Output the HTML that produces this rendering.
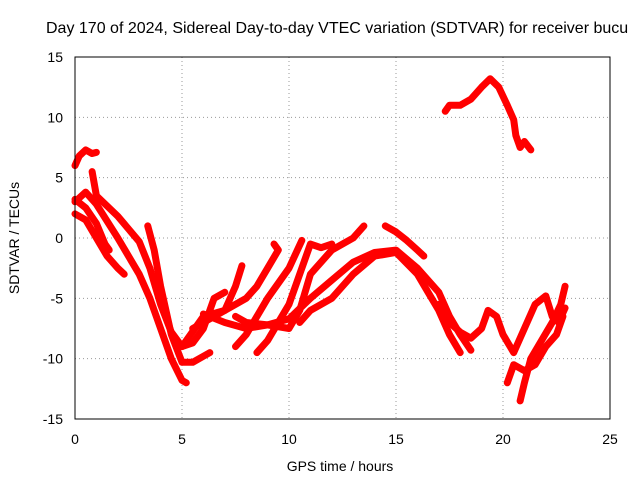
<!DOCTYPE html>
<html><head><meta charset="utf-8"><style>
body{margin:0;background:#fff;}
svg{display:block;font-family:"Liberation Sans",sans-serif;}
</style></head><body>
<svg id="chart" width="640" height="480" viewBox="0 0 640 480">
<text x="46" y="33" font-size="16">Day 170 of 2024, Sidereal Day-to-day VTEC variation (SDTVAR) for receiver bucu</text>
<text x="340" y="471" font-size="14" text-anchor="middle">GPS time / hours</text>
<text x="0" y="0" font-size="14" text-anchor="middle" transform="translate(19,238) rotate(-90)">SDTVAR / TECUs</text>
<g id="grid"></g><g id="ticks"></g><g id="marks"></g>
<rect x="75" y="57" width="535" height="362" fill="none" stroke="#000" stroke-width="1"/>
</svg>
<script>
const xTicks=[0,5,10,15,20,25];
const yTicks=[-15,-10,-5,0,5,10,15];
const trackA=[[0,6],[0.2,6.8],[0.5,7.3],[0.8,7],[1,7.1]];
const trackB=[[0,2],[0.5,1.5],[1,0],[1.5,-1.5],[2,-2.5],[2.3,-3]];
const trackC=[[0,3.2],[0.5,2.5],[1,1.2],[1.4,-0.5],[1.6,-1]];
const trackD=[[0.8,5.5],[1,3.5],[2,1.8],[3,-0.3],[3.5,-2.5],[4,-5.5],[4.5,-7.8],[5,-9],[5.5,-8.7],[6,-7.5],[6.5,-5],[7,-4.5]];
const trackE=[[3.4,1],[3.7,-1],[4,-4],[4.5,-8],[5,-10.3],[5.5,-10.3],[6,-9.8],[6.3,-9.5]];
const trackF=[[0,3],[0.5,3.8],[1,2.8],[2,0],[3,-3],[3.5,-5],[4,-7.5],[4.5,-10],[5,-11.8],[5.2,-12]];
const trackG=[[5.5,-7.5],[6,-7],[6.5,-6.5],[7,-6],[7.5,-4],[7.8,-2.3]];
const trackH=[[5,-9],[6,-6.5],[7,-6],[8,-5],[8.5,-4],[9,-2.5],[9.5,-1],[9.3,-0.5]];
const trackI=[[7.5,-9],[8,-8],[9,-5],[10,-2.5],[10.6,-0.2]];
const trackJ=[[7.5,-6.5],[8,-7],[9,-7.2],[10,-7.5],[10.5,-6],[11,-3],[12,-1],[13,0],[13.5,1]];
const trackK=[[8.5,-9.5],[9,-8.5],[9.5,-7],[10,-5.5],[10.5,-3],[11,-0.5],[11.5,-0.8],[12,-0.5]];
const trackL=[[6,-6.3],[7,-7],[8,-7.5],[9,-7.2],[10,-6.7],[11,-5],[12,-3.5],[13,-2],[14,-1.2],[15,-1],[16,-2.5],[17,-4.5],[17.5,-6.5],[18,-8],[18.5,-9.3]];
const trackM=[[14.5,1],[15,0.5],[15.5,-0.2],[16,-1],[16.3,-1.5]];
const trackN=[[10.5,-7],[11,-6],[12,-5],[13,-3],[14,-1.5],[15,-1.2],[16,-3],[16.5,-4.5],[17,-6],[17.5,-8],[18,-9.5]];
const trackO=[[17.3,10.5],[17.5,11],[18,11],[18.5,11.5],[19,12.5],[19.4,13.2],[19.8,12.5],[20.2,11],[20.5,9.8],[20.6,8.5],[20.8,7.5],[21,8],[21.3,7.3]];
const trackP=[[17,-5.5],[17.5,-7],[18,-7.8],[18.5,-8.3],[19,-7.5],[19.3,-6],[19.7,-6.5],[20,-8],[20.5,-9.5],[21,-7.5],[21.5,-5.5],[22,-4.8],[22.3,-6.5],[22.6,-7],[22.9,-5.8]];
const trackQ=[[20.2,-12],[20.5,-10.5],[21,-11],[21.5,-10.5],[22,-9],[22.5,-8],[22.8,-6.5]];
const trackR=[[20.8,-13.5],[21,-12],[21.3,-10],[21.8,-8.5],[22.3,-7],[22.7,-5.5],[22.9,-4]];
const tracks=[trackA,trackB,trackC,trackD,trackE,trackF,trackG,trackH,trackI,trackJ,trackK,trackL,trackM,trackN,trackO,trackP,trackQ,trackR];
const NS='http://www.w3.org/2000/svg';
const X=v=>75+v*535/25, Y=v=>419-(v+15)*362/30;
const grid=document.getElementById('grid'),ticks=document.getElementById('ticks'),marks=document.getElementById('marks');
function mk(t,a,p){const e=document.createElementNS(NS,t);for(const k in a)e.setAttribute(k,a[k]);p.appendChild(e);return e;}
xTicks.forEach(v=>{
 if(v>0&&v<25){const g=mk('line',{x1:X(v),x2:X(v),y1:57,y2:419,stroke:'#999','stroke-dasharray':'1,3'},grid);
 
 }
 const t=mk('text',{x:X(v),y:444,'font-size':14,'text-anchor':'middle'},ticks);t.textContent=v;
 
 
});
yTicks.forEach(v=>{
 if(v>-15&&v<15){const g=mk('line',{x1:75,x2:610,y1:Y(v),y2:Y(v),stroke:'#999','stroke-dasharray':'1,3'},grid);
 
 }
 const t=mk('text',{x:63,y:Y(v)+5,'font-size':14,'text-anchor':'end'},ticks);t.textContent=v;
 
 
});
tracks.forEach((tr,i)=>{
 const p=mk('polyline',{points:tr.map(d=>X(d[0])+','+Y(d[1])).join(' '),fill:'none',stroke:'#f00','stroke-width':7,'stroke-linejoin':'round','stroke-linecap':'round'},marks);
 
 
});
</script>
</body></html>
